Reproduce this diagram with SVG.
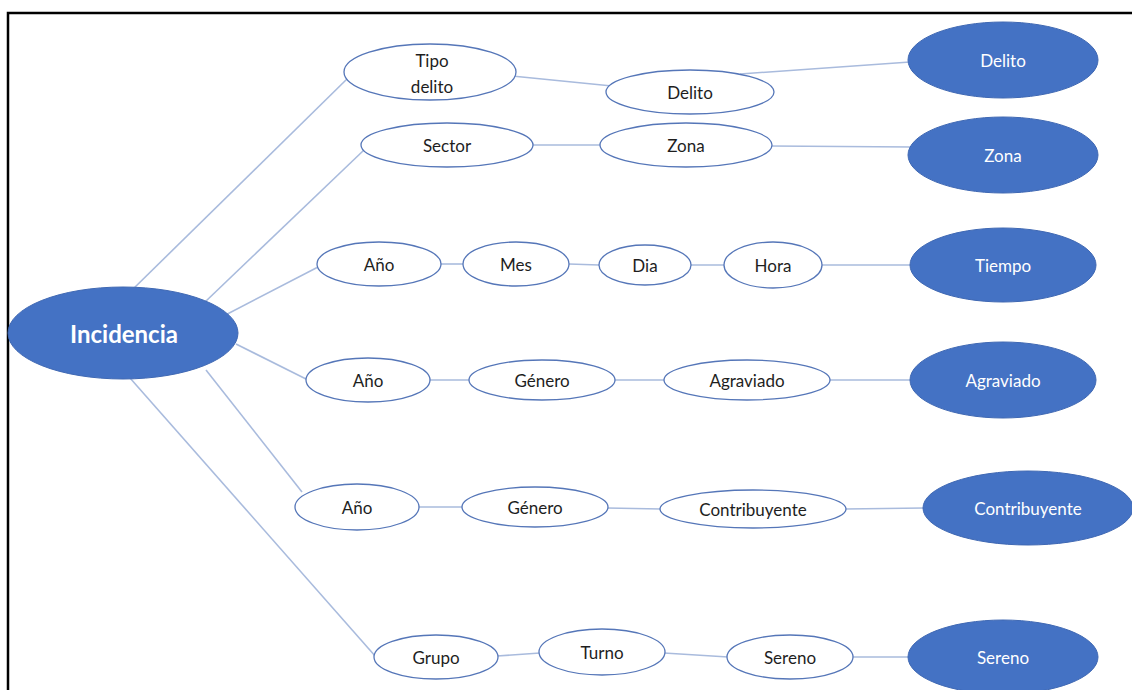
<svg xmlns="http://www.w3.org/2000/svg" width="1132" height="690" viewBox="0 0 1132 690">
  <style>
    .edge { stroke: #a9bbdd; stroke-width: 1.6; fill: none; }
    .attr ellipse { fill: #ffffff; stroke: #5576b8; stroke-width: 1.3; }
    .dim ellipse { fill: #4472c4; stroke: #3f68b3; stroke-width: 1; }
    text { font-family: Lato, "Open Sans", "Liberation Sans", sans-serif; font-size: 17px; text-anchor: middle; dominant-baseline: central; }
    .attr text { fill: #1e1e1e; }
    .dim text { fill: #ffffff; }
  </style>
  <rect width="1132" height="690" fill="#ffffff"/>
  <!-- frame -->
  <path d="M8,690 V13 H1132" fill="none" stroke="#000000" stroke-width="2.5"/>

  <g id="connectors">
    <!-- root branches -->
    <line class="edge" x1="130" y1="292" x2="348" y2="78"/>
    <line class="edge" x1="205" y1="302" x2="364" y2="150"/>
    <line class="edge" x1="212" y1="322" x2="320" y2="266"/>
    <line class="edge" x1="236" y1="344" x2="308" y2="380"/>
    <line class="edge" x1="206" y1="370" x2="302" y2="492"/>
    <line class="edge" x1="130" y1="378" x2="376" y2="657"/>
    <!-- Delito chain -->
    <line class="edge" x1="512" y1="76" x2="612" y2="86"/>
    <line class="edge" x1="740" y1="74" x2="910" y2="62"/>
    <!-- Zona chain -->
    <line class="edge" x1="530" y1="145" x2="602" y2="145"/>
    <line class="edge" x1="770" y1="146" x2="912" y2="147"/>
    <!-- Tiempo chain -->
    <line class="edge" x1="440" y1="264" x2="464" y2="264"/>
    <line class="edge" x1="569" y1="264" x2="599" y2="265"/>
    <line class="edge" x1="691" y1="265" x2="724" y2="265"/>
    <line class="edge" x1="822" y1="265" x2="912" y2="265"/>
    <!-- Agraviado chain -->
    <line class="edge" x1="429" y1="380" x2="470" y2="380"/>
    <line class="edge" x1="614" y1="380" x2="665" y2="380"/>
    <line class="edge" x1="829" y1="380" x2="912" y2="380"/>
    <!-- Contribuyente chain -->
    <line class="edge" x1="418" y1="507" x2="463" y2="507"/>
    <line class="edge" x1="607" y1="508" x2="661" y2="509"/>
    <line class="edge" x1="845" y1="509" x2="924" y2="508"/>
    <!-- Sereno chain -->
    <line class="edge" x1="497" y1="656" x2="540" y2="653"/>
    <line class="edge" x1="664" y1="653" x2="728" y2="657"/>
    <line class="edge" x1="852" y1="657" x2="910" y2="657"/>
  </g>

  <g id="incidencia" class="dim">
    <ellipse cx="123" cy="333" rx="115" ry="46"/>
    <text x="124" y="333" style="font-size:24px;font-weight:bold">Incidencia</text>
  </g>

  <g id="tipo-delito" class="attr">
    <ellipse cx="430" cy="72" rx="86" ry="28"/>
    <text x="432" y="60">Tipo</text>
    <text x="432" y="86">delito</text>
  </g>
  <g id="delito-attr" class="attr">
    <ellipse cx="690" cy="92" rx="84" ry="22"/>
    <text x="690" y="92">Delito</text>
  </g>
  <g id="delito" class="dim">
    <ellipse cx="1003" cy="60" rx="95" ry="38"/>
    <text x="1003" y="60">Delito</text>
  </g>

  <g id="sector" class="attr">
    <ellipse cx="447" cy="145" rx="86" ry="22"/>
    <text x="447" y="145">Sector</text>
  </g>
  <g id="zona-attr" class="attr">
    <ellipse cx="686" cy="145" rx="86" ry="22"/>
    <text x="686" y="145">Zona</text>
  </g>
  <g id="zona" class="dim">
    <ellipse cx="1003" cy="155" rx="95" ry="38"/>
    <text x="1003" y="155">Zona</text>
  </g>

  <g id="anio-tiempo" class="attr">
    <ellipse cx="379" cy="264" rx="62" ry="22"/>
    <text x="379" y="264">Año</text>
  </g>
  <g id="mes" class="attr">
    <ellipse cx="516" cy="264" rx="53" ry="22"/>
    <text x="516" y="264">Mes</text>
  </g>
  <g id="dia" class="attr">
    <ellipse cx="645" cy="265" rx="46" ry="20"/>
    <text x="645" y="265">Dia</text>
  </g>
  <g id="hora" class="attr">
    <ellipse cx="773" cy="265" rx="49" ry="23"/>
    <text x="773" y="265">Hora</text>
  </g>
  <g id="tiempo" class="dim">
    <ellipse cx="1003" cy="265" rx="93" ry="37"/>
    <text x="1003" y="265">Tiempo</text>
  </g>

  <g id="anio-agraviado" class="attr">
    <ellipse cx="368" cy="380" rx="62" ry="22"/>
    <text x="368" y="380">Año</text>
  </g>
  <g id="genero-agraviado" class="attr">
    <ellipse cx="542" cy="380" rx="73" ry="20"/>
    <text x="542" y="380">Género</text>
  </g>
  <g id="agraviado-attr" class="attr">
    <ellipse cx="747" cy="380" rx="83" ry="20"/>
    <text x="747" y="380">Agraviado</text>
  </g>
  <g id="agraviado" class="dim">
    <ellipse cx="1003" cy="380" rx="93" ry="38"/>
    <text x="1003" y="380">Agraviado</text>
  </g>

  <g id="anio-contribuyente" class="attr">
    <ellipse cx="357" cy="507" rx="62" ry="23"/>
    <text x="357" y="507">Año</text>
  </g>
  <g id="genero-contribuyente" class="attr">
    <ellipse cx="535" cy="507" rx="73" ry="20"/>
    <text x="535" y="507">Género</text>
  </g>
  <g id="contribuyente-attr" class="attr">
    <ellipse cx="753" cy="509" rx="93" ry="19"/>
    <text x="753" y="509">Contribuyente</text>
  </g>
  <g id="contribuyente" class="dim">
    <ellipse cx="1028" cy="508" rx="105" ry="37"/>
    <text x="1028" y="508">Contribuyente</text>
  </g>

  <g id="grupo" class="attr">
    <ellipse cx="436" cy="657" rx="62" ry="22"/>
    <text x="436" y="657">Grupo</text>
  </g>
  <g id="turno" class="attr">
    <ellipse cx="602" cy="652" rx="63" ry="23"/>
    <text x="602" y="652">Turno</text>
  </g>
  <g id="sereno-attr" class="attr">
    <ellipse cx="790" cy="657" rx="63" ry="22"/>
    <text x="790" y="657">Sereno</text>
  </g>
  <g id="sereno" class="dim">
    <ellipse cx="1003" cy="657" rx="95" ry="37"/>
    <text x="1003" y="657">Sereno</text>
  </g>
</svg>
